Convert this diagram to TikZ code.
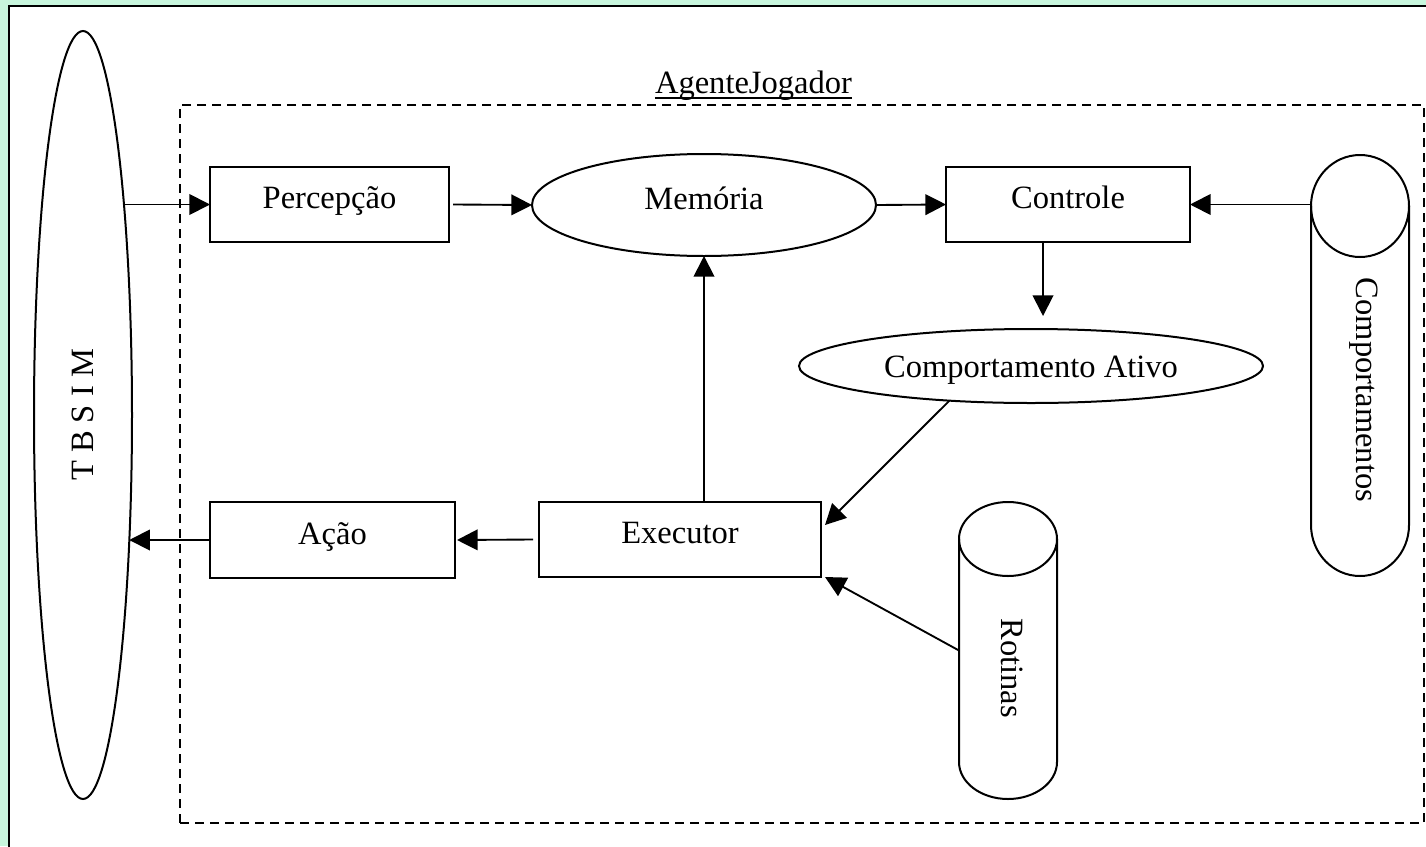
\documentclass[tikz,border=0pt]{standalone}
\usepackage{fontspec}
\setmainfont{Liberation Serif}
\usepackage{graphicx}
\usetikzlibrary{arrows.meta,calc,shapes.geometric}
\definecolor{slidebg}{RGB}{200,246,221}
\tikzset{
  sz/.style 2 args={minimum width=#1*0.75pt, minimum height=#2*0.75pt},
  shape line/.style={draw, line width=1.5pt},
  blk/.style={shape line, rectangle, inner sep=0pt, outer sep=0pt,
    text height=16.5pt, text depth=10.5pt},
  oval/.style={shape line, ellipse, inner sep=0pt, outer sep=0pt},
  cylbody/.style={rectangle, inner sep=0pt, outer sep=0pt},
  arr/.style={line width=1.4pt, -{Triangle[length=15.5pt,width=15.5pt]}},
  container/.style={draw, rectangle, line width=1.9pt,
    dash pattern=on 6.75pt off 4.5pt, inner sep=0pt, outer sep=0pt},
}
% cylinder outline around a named body node: #1 node, #2 x radius, #3 y radius of the caps
\newcommand\drawcylinder[3]{%
  \draw[shape line] ([yshift=-#3]#1.north) ellipse [x radius=#2, y radius=#3];
  \draw[shape line] ([yshift=-#3]#1.north west) -- ([yshift=#3]#1.south west)
    arc [start angle=180, end angle=360, x radius=#2, y radius=#3]
    -- ([yshift=-#3]#1.north east);
}
\begin{document}
\begin{tikzpicture}[x=0.75pt, y=-0.75pt,
  every node/.append style={font=\fontsize{24.4pt}{29pt}\selectfont}]
\useasboundingbox (0,0) rectangle (1426,846);
\fill[slidebg] (0,0) rectangle (1426,846);
\begin{scope}
  \clip (0,0) rectangle (1426,846);
  \draw[fill=white, line width=1.5pt] (9,6) rectangle (1450,870);
\end{scope}

% agent boundary and its title
\node[container, sz={1244}{718}] (agente) at (802,464) {};
\node[inner sep=0pt, anchor=base] (agtitle) at (753.5,93) {AgenteJogador};
\draw[line width=1.4pt] ([yshift=-3.75pt]agtitle.base west) -- ([yshift=-3.75pt]agtitle.base east);

% simulator
\node[oval, sz={98}{768}] (tbsim) at (83,415) {\rotatebox{90}{T B S I M}};

% agent components
\node[blk, sz={239}{75}] (perc) at (329.5,204.5) {Percepção};
\node[oval, sz={344}{102}, text height=16.5pt, text depth=10.5pt] (mem) at (704,205) {Memória};
\node[blk, sz={244}{75}] (ctrl) at (1068,204.5) {Controle};
\node[oval, sz={464}{74}, text height=16.5pt, text depth=0pt] (cativo) at (1031,366) {Comportamento Ativo};
\node[blk, sz={282}{75}] (exec) at (680,539.5) {Executor};
\node[blk, sz={245}{76}] (acao) at (332.5,540) {Ação};

% data stores
\node[cylbody, sz={98}{421}] (comp) at (1360,365.5) {};
\drawcylinder{comp}{36.75pt}{38.25pt}
\node[rotate=-90] (comptxt) at (1364,390) {Comportamentos};

\node[cylbody, sz={98}{297}] (rot) at (1008,650.5) {};
\drawcylinder{rot}{36.75pt}{27.75pt}
\node[rotate=-90] (rottxt) at (1012,668) {Rotinas};

% flows
\draw[arr] (tbsim.79.2 |- perc.west) -- (perc.west);
\draw[arr] ($(perc.east)+(4,0)$) -- (mem.west);
\draw[arr] (mem.east) -- (ctrl.west);
\draw[arr] (comp.west |- ctrl.east) -- (ctrl.east);
\draw[arr] ($(ctrl.south)+(-25,0)$) -- ($(ctrl.south |- cativo.north)+(-25,-13)$);
\draw[arr] (cativo.203) -- ($(exec.north east)+(4,23)$);
\draw[arr] (rot.west) -- ($(exec.south east)+(4,0)$);
\draw[arr] (mem.south |- exec.north) -- (mem.south);
\draw[arr] ($(exec.west)+(-6,0)$) -- ($(acao.east)+(2,0)$);
\draw[arr] (acao.west) -- (tbsim.-70 |- acao.west);
\end{tikzpicture}
\end{document}
